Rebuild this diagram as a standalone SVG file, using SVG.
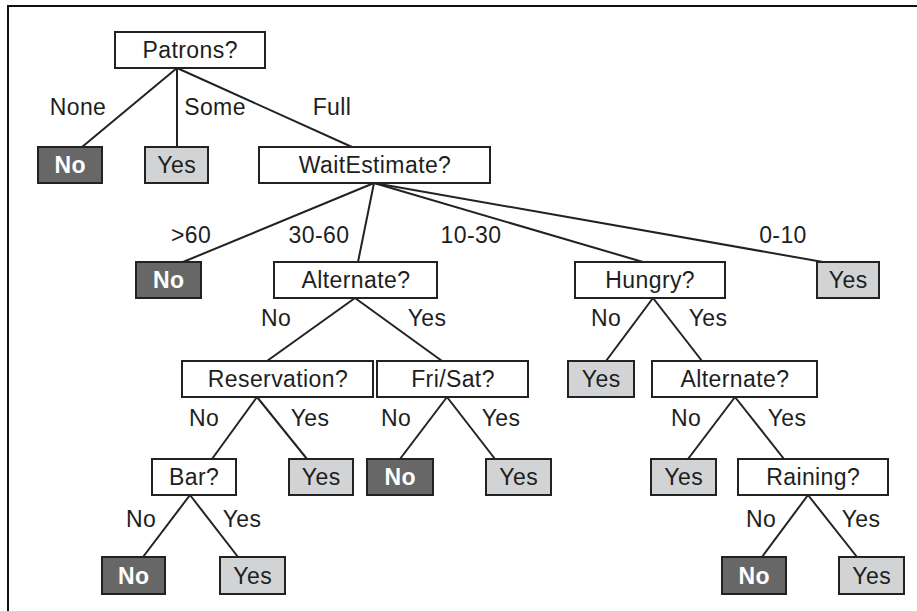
<svg xmlns="http://www.w3.org/2000/svg" width="917" height="611" viewBox="0 0 917 611">
  <style>
    text { font-family: "Liberation Sans", Arial, Helvetica, sans-serif; font-size: 23px; letter-spacing: 0.4px; text-anchor: middle; fill: #1e1e1e; }
    .box rect { stroke: #222; stroke-width: 2; }
    .test rect { fill: #fff; }
    .yes rect { fill: #d2d3d5; }
    .no rect { fill: #676767; }
    .no text { fill: #fff; font-weight: bold; }
    .edges line { stroke: #222; stroke-width: 2; }
    .frame { stroke: #111; stroke-width: 2; fill: none; }
  </style>

  <!-- page frame -->
  <path class="frame" d="M8,611 V6 H917"/>

  <!-- branches -->
  <g class="edges" id="connectors">
    <line x1="177" y1="68" x2="82" y2="147"/>
    <line x1="177" y1="68" x2="177" y2="147"/>
    <line x1="177" y1="68" x2="352" y2="147"/>
    <line x1="374" y1="183" x2="183" y2="262"/>
    <line x1="374" y1="183" x2="358" y2="262"/>
    <line x1="374" y1="183" x2="643" y2="262"/>
    <line x1="374" y1="183" x2="823" y2="262"/>
    <line x1="355" y1="298" x2="267" y2="361"/>
    <line x1="355" y1="298" x2="442" y2="361"/>
    <line x1="653" y1="298" x2="606" y2="361"/>
    <line x1="653" y1="298" x2="702" y2="361"/>
    <line x1="257" y1="397" x2="212" y2="459"/>
    <line x1="257" y1="397" x2="307" y2="459"/>
    <line x1="447" y1="397" x2="400" y2="459"/>
    <line x1="447" y1="397" x2="495" y2="459"/>
    <line x1="735" y1="397" x2="688" y2="459"/>
    <line x1="735" y1="397" x2="784" y2="459"/>
    <line x1="190" y1="495" x2="143" y2="557"/>
    <line x1="190" y1="495" x2="238" y2="557"/>
    <line x1="808" y1="495" x2="762" y2="557"/>
    <line x1="808" y1="495" x2="857" y2="557"/>
  </g>

  <!-- branch labels -->
  <g id="branch-labels">
    <text x="78" y="115">None</text>
    <text x="215" y="115">Some</text>
    <text x="332" y="115">Full</text>
    <text x="191" y="243">&gt;60</text>
    <text x="319" y="243">30-60</text>
    <text x="471" y="243">10-30</text>
    <text x="783" y="243">0-10</text>
    <text x="276" y="326">No</text>
    <text x="427" y="326">Yes</text>
    <text x="606" y="326">No</text>
    <text x="708" y="326">Yes</text>
    <text x="204" y="426">No</text>
    <text x="310" y="426">Yes</text>
    <text x="396" y="426">No</text>
    <text x="501" y="426">Yes</text>
    <text x="686" y="426">No</text>
    <text x="787" y="426">Yes</text>
    <text x="141" y="527">No</text>
    <text x="242" y="527">Yes</text>
    <text x="761" y="527">No</text>
    <text x="861" y="527">Yes</text>
  </g>

  <!-- decision nodes -->
  <g id="patrons" class="box test"><rect x="115" y="32" width="150" height="36"/><text x="190.2" y="58">Patrons?</text></g>
  <g id="wait-estimate" class="box test"><rect x="259" y="147" width="231" height="36"/><text x="375" y="173">WaitEstimate?</text></g>
  <g id="alternate-1" class="box test"><rect x="274" y="262" width="163" height="36"/><text x="356" y="288">Alternate?</text></g>
  <g id="hungry" class="box test"><rect x="575" y="262" width="150" height="36"/><text x="650.2" y="288">Hungry?</text></g>
  <g id="reservation" class="box test"><rect x="182" y="361" width="191" height="36"/><text x="278" y="387">Reservation?</text></g>
  <g id="fri-sat" class="box test"><rect x="377" y="361" width="151" height="36"/><text x="453" y="387">Fri/Sat?</text></g>
  <g id="alternate-2" class="box test"><rect x="652" y="361" width="165" height="36"/><text x="735" y="387">Alternate?</text></g>
  <g id="bar" class="box test"><rect x="152" y="459" width="84" height="36"/><text x="194.2" y="485">Bar?</text></g>
  <g id="raining" class="box test"><rect x="738" y="459" width="150" height="36"/><text x="813.2" y="485">Raining?</text></g>

  <!-- leaves -->
  <g id="leaf-none-no" class="box no"><rect x="38" y="147" width="64" height="36"/><text x="70.2" y="173">No</text></g>
  <g id="leaf-some-yes" class="box yes"><rect x="145" y="147" width="63" height="36"/><text x="176.7" y="173">Yes</text></g>
  <g id="leaf-over60-no" class="box no"><rect x="136" y="262" width="65" height="36"/><text x="168.7" y="288">No</text></g>
  <g id="leaf-0-10-yes" class="box yes"><rect x="817" y="262" width="62" height="36"/><text x="848.2" y="288">Yes</text></g>
  <g id="leaf-hungry-no-yes" class="box yes"><rect x="568" y="361" width="66" height="36"/><text x="601.2" y="387">Yes</text></g>
  <g id="leaf-reservation-yes" class="box yes"><rect x="289" y="459" width="64" height="36"/><text x="321.2" y="485">Yes</text></g>
  <g id="leaf-frisat-no" class="box no"><rect x="367" y="459" width="66" height="36"/><text x="400.2" y="485">No</text></g>
  <g id="leaf-frisat-yes" class="box yes"><rect x="486" y="459" width="65" height="36"/><text x="518.7" y="485">Yes</text></g>
  <g id="leaf-alternate-no-yes" class="box yes"><rect x="651" y="459" width="65" height="36"/><text x="683.7" y="485">Yes</text></g>
  <g id="leaf-bar-no" class="box no"><rect x="102" y="557" width="63" height="37"/><text x="133.7" y="583.5">No</text></g>
  <g id="leaf-bar-yes" class="box yes"><rect x="220" y="557" width="65" height="37"/><text x="252.7" y="583.5">Yes</text></g>
  <g id="leaf-raining-no" class="box no"><rect x="722" y="557" width="64" height="37"/><text x="754.2" y="583.5">No</text></g>
  <g id="leaf-raining-yes" class="box yes"><rect x="839" y="557" width="65" height="37"/><text x="871.7" y="583.5">Yes</text></g>
</svg>
